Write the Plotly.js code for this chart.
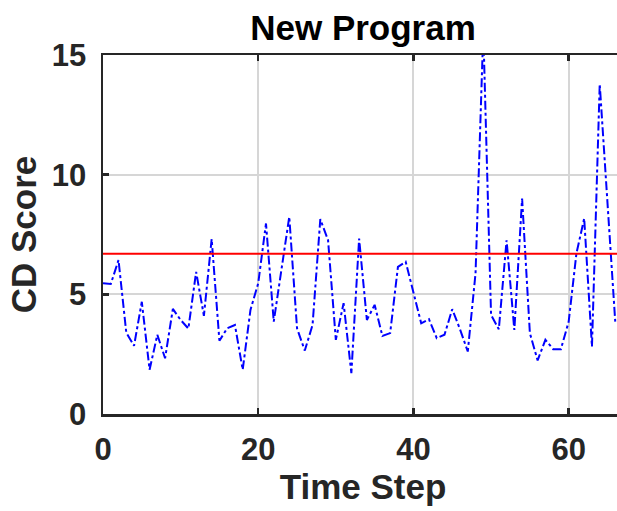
<!DOCTYPE html>
<html><head><meta charset="utf-8">
<script src="https://cdn.plot.ly/plotly-3.0.1.min.js"></script>
<style>html,body{margin:0;padding:0;background:#fff;overflow:hidden}#wrap{width:617px;height:511px;overflow:hidden}</style>
</head><body><div id="wrap"><div id="chart" style="width:623px;height:511px"></div></div>
<script>
const timeSteps = [0,1,2,3,4,5,6,7,8,9,10,11,12,13,14,15,16,17,18,19,20,21,22,23,24,25,26,27,28,29,30,31,32,33,34,35,36,37,38,39,40,41,42,43,44,45,46,47,48,49,50,51,52,53,54,55,56,57,58,59,60,61,62,63,64,65,66];
const cdScore = [5.46,5.43,6.43,3.40,2.85,4.69,1.85,3.31,2.33,4.39,3.93,3.57,5.94,4.10,7.31,3.06,3.58,3.72,1.85,4.35,5.46,7.96,3.86,6.0,8.24,3.58,2.65,3.72,8.14,7.26,3.10,4.63,1.71,7.33,3.93,4.56,3.26,3.38,6.15,6.36,5.08,3.79,3.96,3.17,3.31,4.38,3.54,2.61,5.88,16.0,4.14,3.54,7.26,3.51,9.0,3.38,2.24,3.10,2.71,2.71,3.86,6.71,8.17,2.82,13.79,8.79,3.86];
const threshold = 6.7;
const xRange = [0, 67];
const yRange = [0, 15];
const xTicks = [0, 20, 40, 60];
const yTicks = [0, 5, 10, 15];

const fam = '"Liberation Sans", Arial, sans-serif';
const traces = [
  {x: timeSteps, y: cdScore, type: 'scatter', mode: 'lines',
   line: {color: '#0000ff', width: 2, dash: 'dashdot'}, hoverinfo: 'skip'},
  {x: xRange, y: [threshold, threshold], type: 'scatter', mode: 'lines',
   line: {color: '#ff0000', width: 2}, hoverinfo: 'skip'}
];
const layout = {
  width: 623, height: 511,
  margin: {l: 103, r: 0, t: 55, b: 97, pad: 0},
  paper_bgcolor: '#fff', plot_bgcolor: '#fff',
  showlegend: false,
  font: {family: fam, color: '#262626'},
  title: {text: '<b>New Program</b>', xref: 'paper', x: 0.5, xanchor: 'center',
          yref: 'container', y: 1 - 40/511, yanchor: 'bottom',
          font: {family: fam, size: 35, color: '#000'}},
  xaxis: {range: xRange, tickvals: xTicks, ticktext: xTicks.map(v => '<b>' + v + '</b>'),
          showgrid: true, gridcolor: '#d6d6d6', gridwidth: 2,
          showline: true, linecolor: '#262626', linewidth: 2.5, mirror: 'ticks',
          ticks: 'inside', ticklen: 6, tickwidth: 2.5, tickcolor: '#262626',
          tickfont: {family: fam, size: 31, color: '#262626'}, ticklabelstandoff: 6,
          zeroline: false,
          title: {text: '<b>Time Step</b>', standoff: 8, font: {family: fam, size: 35, color: '#262626'}}},
  yaxis: {range: yRange, tickvals: yTicks, ticktext: yTicks.map(v => '<b>' + v + '</b>'),
          showgrid: true, gridcolor: '#d6d6d6', gridwidth: 2,
          showline: true, linecolor: '#262626', linewidth: 2.5, mirror: false,
          ticks: 'inside', ticklen: 6, tickwidth: 2.5, tickcolor: '#262626',
          tickfont: {family: fam, size: 31, color: '#262626'}, ticklabelstandoff: 8,
          zeroline: false,
          title: {text: '<b>CD Score</b>', standoff: 5, font: {family: fam, size: 35, color: '#262626'}}}
};
Plotly.newPlot('chart', traces, layout, {staticPlot: true, displayModeBar: false});
</script></body></html>
